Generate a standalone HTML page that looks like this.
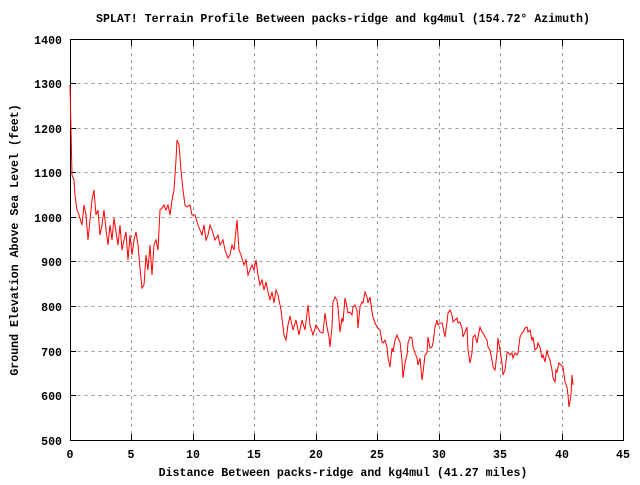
<!DOCTYPE html><html><head><style>body{margin:0;background:#fff}svg text{font-family:"Liberation Mono",monospace;font-size:11.6px;font-weight:bold;fill:#000}</style></head><body>
<svg width="640" height="480" xmlns="http://www.w3.org/2000/svg">
<g stroke="#999" stroke-dasharray="3,4" stroke-width="1">
<path d="M70.5 83.5H623M70.5 128.5H623M70.5 172.5H623M70.5 217.5H623M70.5 261.5H623M70.5 306.5H623M70.5 351.5H623M70.5 395.5H623"/>
<path d="M131.5 39V440M193.5 39V440M254.5 39V440M316.5 39V440M377.5 39V440M439.5 39V440M500.5 39V440M562.5 39V440"/>
</g>
<rect x="70.5" y="39.5" width="553" height="401" fill="none" stroke="#000"/>
<g stroke="#000"><path d="M70 83.5h6M70 128.5h6M70 172.5h6M70 217.5h6M70 261.5h6M70 306.5h6M70 351.5h6M70 395.5h6M617 83.5h6M617 128.5h6M617 172.5h6M617 217.5h6M617 261.5h6M617 306.5h6M617 351.5h6M617 395.5h6M131.5 440v-6M193.5 440v-6M254.5 440v-6M316.5 440v-6M377.5 440v-6M439.5 440v-6M500.5 440v-6M562.5 440v-6M131.5 40v6M193.5 40v6M254.5 40v6M316.5 40v6M377.5 40v6M439.5 40v6M500.5 40v6M562.5 40v6"/></g>
<g text-anchor="end"><text x="62" y="44">1400</text><text x="62" y="88">1300</text><text x="62" y="133">1200</text><text x="62" y="177">1100</text><text x="62" y="222">1000</text><text x="62" y="266">900</text><text x="62" y="311">800</text><text x="62" y="356">700</text><text x="62" y="400">600</text><text x="62" y="445">500</text></g>
<g text-anchor="middle"><text x="70" y="458">0</text><text x="131" y="458">5</text><text x="193" y="458">10</text><text x="254" y="458">15</text><text x="316" y="458">20</text><text x="377" y="458">25</text><text x="439" y="458">30</text><text x="500" y="458">35</text><text x="562" y="458">40</text><text x="623" y="458">45</text>
<text x="343" y="476">Distance Between packs-ridge and kg4mul (41.27 miles)</text>
<text x="343" y="22">SPLAT! Terrain Profile Between packs-ridge and kg4mul (154.72° Azimuth)</text>
<text transform="translate(18,240) rotate(-90)">Ground Elevation Above Sea Level (feet)</text></g>
<polyline fill="none" stroke="#f00" stroke-width="1" points="70,85 71,130 72,175 74,180 75,195 77,210 79,215 82,225 84,205 86,215 88,240 90,220 92,200 94,190 96,215 98,210 100,235 102,225 104,210 106,230 108,245 110,225 112,240 114,218 116,232 118,245 120,225 122,250 124,240 126,232 128,260 130,235 132,255 134,240 136,232 138,245 140,268 142,288 144,285 146,255 148,270 150,245 152,275 154,245 156,240 158,250 160,210 162,208 164,205 166,210 168,205 170,215 172,200 174,190 176,160 177,140 179,145 181,170 183,190 185,205 187,207 190,205 192,215 195,215 198,225 200,230 202,235 204,225 206,240 208,235 210,225 212,230 215,240 218,235 220,245 223,240 225,250 228,258 230,255 232,245 234,250 236,230 237,220 239,250 241,255 244,265 246,260 248,275 250,270 252,265 254,270 256,260 258,275 260,285 262,280 264,290 266,282 268,292 270,300 272,292 274,303 276,290 278,295 281,310 284,335 286,340 288,325 290,316 293,330 296,320 299,335 302,320 305,330 308,305 310,325 313,335 316,325 320,332 323,333 325,313 327,327 329,337 330,347 332,327 333,302 335,297 337,300 338,307 340,332 342,318 343,322 345,298 347,307 348,313 350,312 352,315 353,307 355,305 357,310 358,328 360,307 362,302 363,303 365,292 367,297 368,303 370,297 372,312 373,317 375,323 377,327 378,328 380,330 382,342 383,343 385,340 387,347 388,358 390,367 392,348 393,352 395,340 397,335 398,338 400,342 402,360 403,378 405,363 407,355 408,343 410,337 412,338 413,347 415,353 417,358 418,365 420,358 422,380 423,373 425,355 427,353 428,337 430,348 432,347 433,343 435,327 437,320 438,325 440,323 442,323 443,327 445,337 447,322 448,313 450,310 452,315 453,322 455,320 457,318 458,323 460,322 462,328 463,337 465,332 467,327 468,350 470,363 472,353 473,337 475,335 477,343 478,337 480,327 482,332 483,333 485,337 487,340 488,347 490,350 492,360 493,367 495,370 497,353 498,338 500,350 502,363 503,375 505,370 507,353 508,352 510,355 512,353 513,358 515,353 517,355 518,353 520,337 522,333 523,332 525,328 527,327 528,332 530,330 532,340 533,337 535,350 537,348 538,343 540,347 542,358 543,355 545,362 547,350 548,355 550,360 552,370 553,378 555,382 556,370 557,372 559,363 561,365 563,367 565,382 567,387 568,395 569,407 571,395 572,375 573,385"/>
</svg></body></html>
